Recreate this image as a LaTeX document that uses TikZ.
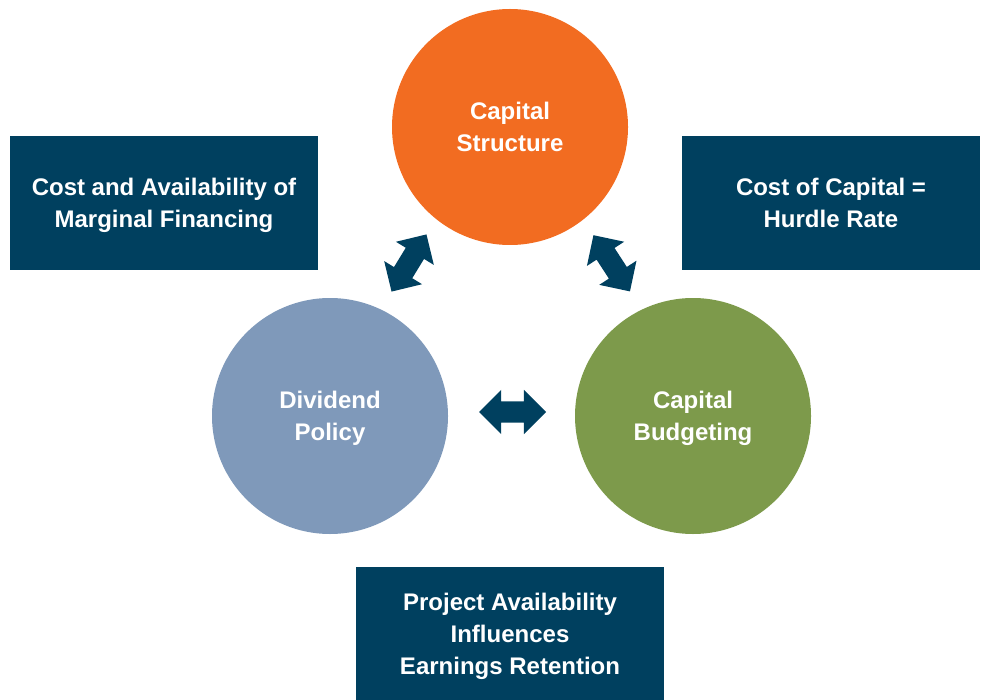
\documentclass[tikz,border=0pt]{standalone}
\usepackage{fontspec}
\setmainfont{Liberation Sans}
\usetikzlibrary{shapes.arrows}
\definecolor{navy}{HTML}{00405F}
\definecolor{orng}{HTML}{F26C21}
\definecolor{slate}{HTML}{7F99BA}
\definecolor{olive}{HTML}{7D9A4B}
\begin{document}
\begin{tikzpicture}[x=1pt,y=-1pt,
  lbl/.style={text=white,font=\fontsize{24}{32}\selectfont\bfseries,align=center,text depth=0pt},
  circ/.style={circle,minimum size=236pt,inner sep=0pt,lbl},
  infobox/.style={rectangle,fill=navy,inner sep=0pt,lbl},
  dbl/.style={double arrow,fill=navy,draw=none,inner xsep=0pt,inner ysep=10.5pt,
    minimum height=67pt,double arrow head extend=11.5pt,double arrow tip angle=90}]
\path[use as bounding box] (0,0) rectangle (981,700);
\node[circ,fill=orng] (cs) at (510,127) {Capital\\Structure};
\node[circ,fill=slate] (dp) at (330,416) {Dividend\\Policy};
\node[circ,fill=olive] (cb) at (693,416) {Capital\\Budgeting};
\node[infobox,minimum width=308pt,minimum height=134pt] (b1) at (164,203) {Cost and Availability of\\Marginal Financing};
\node[infobox,minimum width=298pt,minimum height=134pt] (b2) at (831,203) {Cost of Capital =\\Hurdle Rate};
\node[infobox,minimum width=308pt,minimum height=133pt] (b3) at (510,633.5) {Project Availability\\Influences\\Earnings Retention};
\node[dbl,rotate=58.6] (a1) at (409,263) {};
\node[dbl,rotate=-57] (a2) at (611.7,263.3) {};
\node[dbl] (a3) at (512.5,412) {};
\end{tikzpicture}
\end{document}
